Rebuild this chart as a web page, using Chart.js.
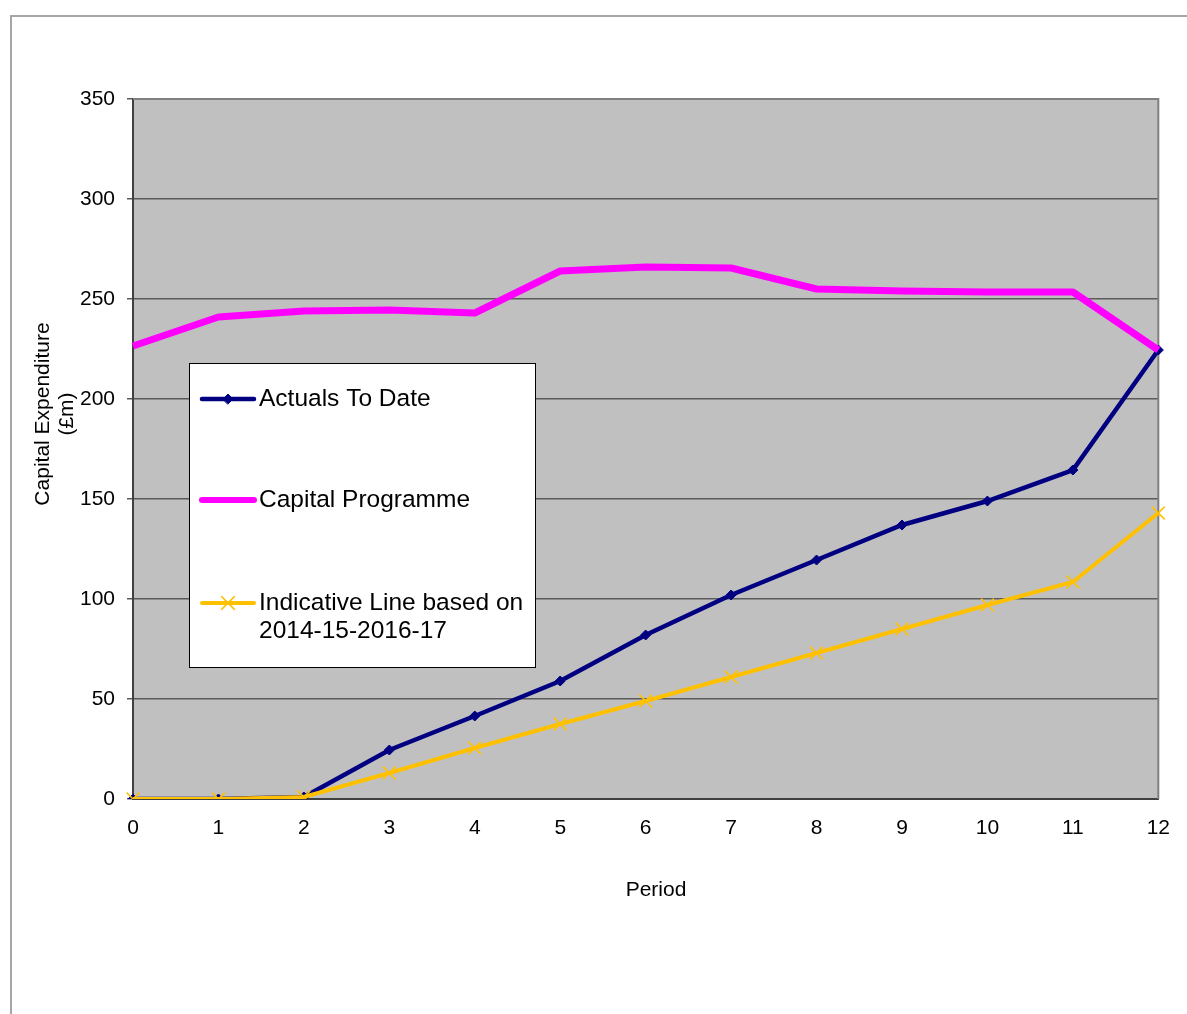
<!DOCTYPE html>
<html>
<head>
<meta charset="utf-8">
<title>Capital Expenditure</title>
<script src="https://cdn.jsdelivr.net/npm/chart.js@4.4.1/dist/chart.umd.min.js"></script>
<style>
  html, body { margin: 0; padding: 0; background: #fff; overflow: hidden; }
  #wrap { position: relative; width: 1187px; height: 1014px; }
  #frame {
    position: absolute; left: 10px; top: 15px; width: 1300px; height: 1100px;
    border-left: 2px solid #a6a6a6; border-top: 2px solid #a6a6a6;
    box-sizing: border-box; pointer-events: none;
  }
  #chart { position: absolute; left: 0; top: 0; }
</style>
</head>
<body>
<div id="wrap">
  <div id="frame"></div>
  <canvas id="chart" width="1187" height="1014"></canvas>
</div>
<script>
const periods = ['0', '1', '2', '3', '4', '5', '6', '7', '8', '9', '10', '11', '12']
const actuals = [0, 0, 1, 24.5, 41.5, 59, 82, 102, 119.5, 137, 149, 164.5, 224.5]
const programme = [226.5, 241, 244, 244.5, 243, 264, 266, 265.5, 255, 254, 253.5, 253.5, 224.5]
const indicative = [0, 0, 1, 13, 25.5, 37.5, 49, 61, 73, 85, 97, 108.5, 143]
const yTicks = [0, 50, 100, 150, 200, 250, 300, 350]
const seriesNames = ['Actuals To Date', 'Capital Programme', 'Indicative Line based on 2014-15-2016-17']
const legendLines = [['Actuals To Date'], ['Capital Programme'], ['Indicative Line based on', '2014-15-2016-17']]
const yTitle = ['Capital Expenditure', '(£m)']
const xTitle = 'Period'

const FONT = '"Liberation Sans", Arial, sans-serif'
const NAVY = '#000080'
const PINK = '#ff00ff'
const GOLD = '#ffc000'

// grey plot background plus the thin frame round it
const plotBox = {
  id: 'plotBox',
  beforeDraw(chart) {
    const { ctx, chartArea: a } = chart
    ctx.save()
    ctx.fillStyle = '#c0c0c0'
    ctx.fillRect(a.left, a.top, a.right - a.left, a.bottom - a.top)
    ctx.restore()
  },
  beforeDatasetsDraw(chart) {
    const { ctx, chartArea: a } = chart
    ctx.save()
    ctx.strokeStyle = '#808080'
    ctx.lineWidth = 2
    ctx.beginPath()
    ctx.moveTo(a.left, a.top)
    ctx.lineTo(a.right, a.top)
    ctx.lineTo(a.right, a.bottom)
    ctx.stroke()
    ctx.restore()
  }
}

// axis titles: rotated two-line y title sits a bit above the plot's middle,
// the x title a little right of centre
const axisTitles = {
  id: 'axisTitles',
  afterDraw(chart) {
    const { ctx } = chart
    ctx.save()
    ctx.fillStyle = '#000'
    ctx.font = '21px ' + FONT
    ctx.textAlign = 'center'
    ctx.textBaseline = 'middle'
    ctx.fillText(xTitle, 656, 890)
    ctx.translate(0, 414)
    ctx.rotate(-Math.PI / 2)
    yTitle.forEach((t, i) => ctx.fillText(t, 0, 43 + i * 24))
    ctx.restore()
  }
}

// boxed legend drawn inside the plot area
const boxLegend = {
  id: 'boxLegend',
  afterDraw(chart) {
    const { ctx } = chart
    const x0 = 189.5, y0 = 363.5, w = 346, h = 304
    ctx.save()
    ctx.fillStyle = '#fff'
    ctx.fillRect(x0, y0, w, h)
    ctx.strokeStyle = '#000'
    ctx.lineWidth = 1
    ctx.strokeRect(x0, y0, w, h)

    const rows = [399, 500, 603]
    chart.data.datasets.forEach((ds, i) => {
      const y = rows[i]
      ctx.strokeStyle = ds.borderColor
      ctx.lineWidth = Math.min(ds.borderWidth, 6)
      ctx.lineCap = 'round'
      ctx.beginPath()
      ctx.moveTo(202, y)
      ctx.lineTo(254, y)
      ctx.stroke()
      if (ds.pointRadius > 0) {
        ctx.fillStyle = ds.pointBackgroundColor
        ctx.strokeStyle = ds.pointBorderColor
        ctx.lineWidth = ds.pointBorderWidth
        Chart.helpers.drawPoint(ctx, {
          pointStyle: ds.pointStyle,
          radius: ds.pointRadius,
          borderWidth: ds.pointBorderWidth,
          rotation: 0
        }, 228, y)
      }
      ctx.fillStyle = '#000'
      ctx.font = '24.5px ' + FONT
      ctx.textAlign = 'left'
      ctx.textBaseline = 'middle'
      legendLines[i].forEach((t, k) => ctx.fillText(t, 259, y + k * 28))
    })
    ctx.restore()
  }
}

const chart = new Chart(document.getElementById('chart'), {
  type: 'line',
  data: {
    labels: periods,
    datasets: [
      {
        label: seriesNames[0],
        data: actuals,
        borderColor: NAVY,
        backgroundColor: NAVY,
        borderWidth: 4.5,
        pointStyle: 'rectRot',
        pointRadius: 5,
        pointBorderWidth: 1,
        pointBackgroundColor: NAVY,
        pointBorderColor: NAVY,
        tension: 0,
        order: 3
      },
      {
        label: seriesNames[1],
        data: programme,
        borderColor: PINK,
        backgroundColor: PINK,
        borderWidth: 7,
        pointRadius: 0,
        borderJoinStyle: 'round',
        tension: 0,
        order: 2
      },
      {
        label: seriesNames[2],
        data: indicative,
        borderColor: GOLD,
        backgroundColor: GOLD,
        borderWidth: 4,
        pointStyle: 'crossRot',
        pointRadius: 9,
        pointBorderWidth: 1.5,
        pointBackgroundColor: GOLD,
        pointBorderColor: GOLD,
        tension: 0,
        order: 1
      }
    ]
  },
  options: {
    responsive: false,
    animation: false,
    events: [],
    layout: { padding: { top: 99, right: 28, bottom: 111, left: 0 } },
    plugins: {
      legend: { display: false },
      tooltip: { enabled: false }
    },
    scales: {
      x: {
        type: 'category',
        offset: false,
        grid: { display: false, drawTicks: false },
        border: { display: true, color: '#404040', width: 2 },
        ticks: { color: '#000', font: { family: FONT, size: 21 }, padding: 17, maxRotation: 0, autoSkip: false },
        afterFit(scale) { scale.height = 104 }
      },
      y: {
        min: 0,
        max: 350,
        afterBuildTicks(scale) { scale.ticks = yTicks.map(v => ({ value: v })) },
        grid: { color: '#5a5a5a', lineWidth: 1.5, tickLength: 6, drawTicks: true },
        border: { display: true, color: '#404040', width: 2 },
        ticks: { color: '#000', font: { family: FONT, size: 21 }, padding: 12 },
        afterFit(scale) { scale.width = 133 }
      }
    }
  },
  plugins: [plotBox, axisTitles, boxLegend]
})
</script>
</body>
</html>
